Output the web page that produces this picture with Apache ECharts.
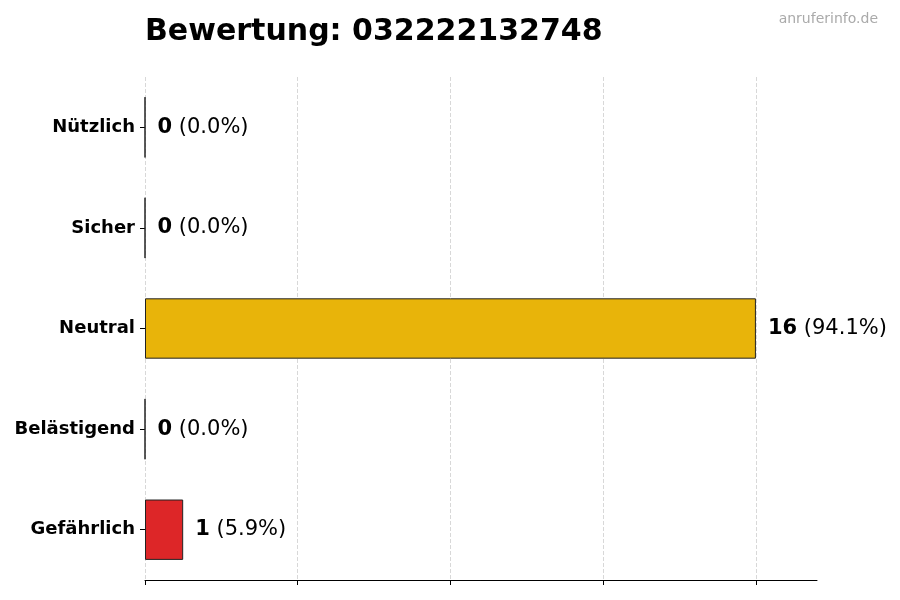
<!DOCTYPE html>
<html>
<head>
<meta charset="utf-8">
<script src="https://cdn.jsdelivr.net/npm/echarts@6/dist/echarts.min.js"></script>
<style>
	html, body { margin: 0; padding: 0; background: #fff; }
	#chart { width: 900px; height: 600px; }
</style>
</head>
<body>
<div id="chart"></div>
<script>
// Bewertungen, von oben nach unten
var categories = ['Nützlich', 'Sicher', 'Neutral', 'Belästigend', 'Gefährlich'];
var counts = [0, 0, 16, 0, 1];
var barColors = ['#2e9e48', '#3a7fd0', '#e8b40a', '#f07d1a', '#dd2628'];
var xTicks = [0, 4, 8, 12, 16];

var total = counts.reduce(function(a, b) { return a + b; }, 0);
var font = 'DejaVu Sans';

var myChart = echarts.init(document.getElementById('chart'));
var option = {
	backgroundColor: '#fff',
	animation: false,
	title: [{
		text: 'Bewertung: 032222132748',
		left: 140,
		top: 12,
		textStyle: { fontFamily: font, fontSize: 30, fontWeight: 'bold', color: '#000' }
	}, {
		text: 'anruferinfo.de',
		right: 17,
		top: 7,
		textStyle: { fontFamily: font, fontSize: 14, fontWeight: 'normal', color: '#aaaaaa' }
	}],
	grid: { left: 145, right: 83, top: 77, bottom: 20 },
	xAxis: {
		type: 'value',
		min: 0,
		max: 17.6,
		interval: 4,
		axisLine: { show: true, lineStyle: { color: '#000', width: 1 } },
		axisTick: { show: true, length: 5, customValues: xTicks, lineStyle: { color: '#000' } },
		axisLabel: { show: false },
		splitLine: {
			show: true,
			// letzte Linie (Achsenende) ausblenden
			lineStyle: { color: ['#d8d8d8', '#d8d8d8', '#d8d8d8', '#d8d8d8', '#d8d8d8', 'rgba(0,0,0,0)'], type: 'dashed', width: 1 }
		}
	},
	yAxis: {
		type: 'category',
		data: categories,
		inverse: true,
		axisLine: { show: false },
		axisTick: { show: true, length: 5, alignWithLabel: true, lineStyle: { color: '#000' } },
		axisLabel: { fontFamily: font, fontSize: 18, fontWeight: 'bold', color: '#000', margin: 10 }
	},
	series: [{
		type: 'bar',
		barWidth: '60%',
		data: counts.map(function(v, i) {
			return { value: v, itemStyle: { color: barColors[i] } };
		}),
		itemStyle: { borderColor: '#222', borderWidth: 1 },
		label: {
			show: true,
			position: 'right',
			distance: 12,
			formatter: function(p) {
				var pct = (p.value / total * 100).toFixed(1);
				return '{v|' + p.value + '}{p| (' + pct + '%)}';
			},
			rich: {
				v: { fontFamily: font, fontSize: 21, fontWeight: 'bold', color: '#000' },
				p: { fontFamily: font, fontSize: 21, color: '#000' }
			}
		}
	}]
};
myChart.setOption(option);
</script>
</body>
</html>
